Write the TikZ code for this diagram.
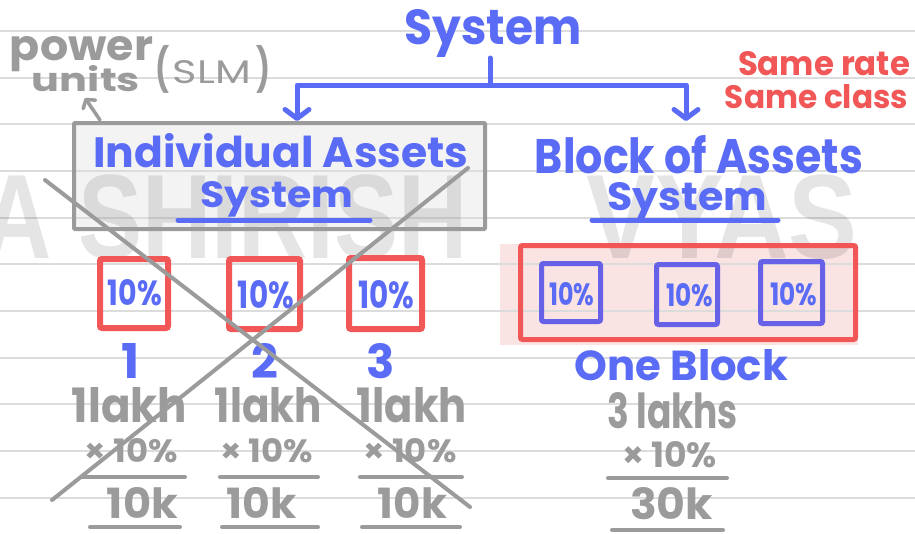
\documentclass[tikz,border=0pt]{standalone}
\usepackage{fontspec}
\setmainfont{Poppins}
\newfontfamily\wmfont{Liberation Sans}
\usetikzlibrary{arrows.meta}
\definecolor{ink}{HTML}{5A6BF5}
\definecolor{inkbox}{HTML}{6661E6}
\definecolor{redink}{HTML}{F25757}
\definecolor{greyink}{HTML}{9B9B9B}
\definecolor{rule}{HTML}{DCDCDC}
\definecolor{boxfill}{HTML}{F3F3F3}
\definecolor{pinkfill}{HTML}{F9E3E3}
% text squeezed to a given width, or width and height (in pt)
\newcommand\hw[2]{\resizebox{#1pt}{!}{#2}}
\newcommand\hwh[3]{\resizebox{#1pt}{#2pt}{#3}}
\newcommand\hh[2]{\resizebox{!}{#1pt}{#2}}
\tikzset{
  hand/.style={inner sep=0pt, anchor=base, font=\bfseries},
  bluetxt/.style={hand, text=ink},
  redtxt/.style={hand, text=redink},
  greytxt/.style={hand, text=greyink},
  pen/.style={line width=#1, line cap=round, line join=round},
  bluepen/.style={pen=5pt, draw=ink},
  greypen/.style={pen=4pt, draw=greyink},
  barb/.style={-{Straight Barb[length=9pt,width=24pt,round]}},
  smallbarb/.style={-{Straight Barb[length=6pt,width=15pt,round]}},
  watermark/.style={inner sep=0pt, text=black, opacity=0.1,
    font=\wmfont\bfseries\fontsize{120}{120}\selectfont},
}
\begin{document}
\begin{tikzpicture}[x=1pt,y=-1pt]
\useasboundingbox (0,0) rectangle (915,533);
\fill[white] (0,0) rectangle (915,533);

% soft fills under the ruled lines
\fill[pinkfill] (500,244) rectangle (858,345);
\fill[boxfill] (74,123) rectangle (485,229);

% ruled paper
\foreach \ry in {31,78,124,171,218,264,311,358,404,451,498}
  \draw[rule, line width=1.5pt] (0,\ry) -- (915,\ry);

% faint watermark
\node[watermark, anchor=base east] (wmA) at (468,258) {\scalebox{0.8}[1]{CA SHIRISH}};
\node[watermark, anchor=base west] (wmB) at (586,258) {\scalebox{0.86}[1]{VYAS}};

% title and branches
\node[bluetxt] (sys) at (493,44) {\hwh{177}{35}{System}};
\coordinate (stem) at (490,58);
\coordinate (fork) at (490,85);
\coordinate (tipL) at (297,121);
\coordinate (tipR) at (686,121);
\draw[bluepen] (stem) -- (fork);
\draw[bluepen, barb] (fork) -| (tipL);
\draw[bluepen, barb] (fork) -| (tipR);

% individual assets system
\draw[draw=greyink, line width=4pt, rounded corners=1pt] (74,123) rectangle (485,229);
\node[bluetxt] (ind) at (281,167) {\hwh{375}{34}{Individual Assets}};
\node[bluetxt] (indsys) at (277,207) {\hwh{153}{26}{System}};
\draw[bluepen] (178,220) -- (370,220);

% block of assets system
\node[bluetxt] (blk) at (699,173) {\hwh{328}{38}{Block of Assets}};
\node[bluetxt] (blksys) at (687,210) {\hwh{160}{28}{System}};
\draw[bluepen] (592,220) -- (778,220);

% red remark
\node[redtxt] (rate) at (824,75) {\hwh{172}{24}{Same rate}};
\node[redtxt] (cls) at (816.5,108) {\hwh{183}{24}{Same class}};

% power units note
\node[greytxt] (pw) at (81.5,60) {\hwh{143}{24}{power}};
\node[greytxt] (un) at (86,91) {\hwh{108}{26}{units}};
\node[greytxt, anchor=center] (lp) at (162,69) {\resizebox*{14pt}{48pt}{(}};
\node[greytxt, font=\mdseries] (slm) at (212,83) {\hwh{78}{23}{SLM}};
\node[greytxt, anchor=center] (rp) at (263,69) {\resizebox*{14pt}{48pt}{)}};
\coordinate (noteTip) at (85,98);
\coordinate (noteTail) at (100,120);
\draw[pen=3.5pt, draw=greyink, smallbarb] (noteTail) -- (noteTip);

% three separate assets
\draw[draw=redink, line width=6pt, rounded corners=2pt] (100,259) rectangle (168,328);
\draw[draw=redink, line width=6pt, rounded corners=2pt] (229,259) rectangle (300,329);
\draw[draw=redink, line width=6pt, rounded corners=2pt] (349,258) rectangle (422,329);
\node[bluetxt] (p1) at (135,305) {\hwh{54}{26}{10\%}};
\node[bluetxt] (p2) at (266,308) {\hwh{56}{28}{10\%}};
\node[bluetxt] (p3) at (386,308) {\hwh{56}{28}{10\%}};
\node[bluetxt] (n1) at (131,378) {\hh{35}{1}};
\node[bluetxt] (n2) at (265,378) {\hh{35}{2}};
\node[bluetxt] (n3) at (381,378) {\hh{35}{3}};

\node[greytxt] (l1) at (129.5,422) {\hwh{115}{35}{1lakh}};
\node[greytxt] (l2) at (268.5,422) {\hwh{107}{35}{1lakh}};
\node[greytxt] (l3) at (412,422) {\hwh{110}{35}{1lakh}};
\node[greytxt] (m1) at (131.5,462) {\hwh{93}{24}{× 10\%}};
\node[greytxt] (m2) at (266.5,462) {\hwh{93}{24}{× 10\%}};
\node[greytxt] (m3) at (410,462) {\hwh{93}{24}{× 10\%}};
\draw[greypen] (82,477) -- (185,477);
\draw[greypen] (220,477) -- (318,477);
\draw[greypen] (360,477) -- (462,477);
\node[greytxt] (k1) at (142.5,518) {\hwh{71}{31}{10k}};
\node[greytxt] (k2) at (262,518) {\hwh{70}{31}{10k}};
\node[greytxt] (k3) at (412.5,518) {\hwh{69}{31}{10k}};
\draw[greypen] (90,527) -- (180,527);
\draw[greypen] (222,527) -- (318,527);
\draw[greypen] (362,527) -- (460,527);

% one block of three assets
\draw[draw=redink, line width=5pt, rounded corners=2pt] (520.5,245.5) rectangle (855.5,339.5);
\draw[draw=inkbox, line width=5pt, rounded corners=2pt] (541.5,263.5) rectangle (600.5,321.5);
\draw[draw=inkbox, line width=5pt, rounded corners=2pt] (656.5,264.5) rectangle (717.5,324.5);
\draw[draw=inkbox, line width=5pt, rounded corners=2pt] (760.5,261.5) rectangle (822.5,323.5);
\node[bluetxt] (q1) at (572,305) {\hwh{45}{23}{10\%}};
\node[bluetxt] (q2) at (690,306) {\hwh{47}{23}{10\%}};
\node[bluetxt] (q3) at (794,305) {\hwh{47}{23}{10\%}};
\node[bluetxt] (one) at (681.5,380) {\hwh{213}{31}{One Block}};
\node[greytxt] (l4) at (672.5,428) {\hwh{131}{36}{3 lakhs}};
\node[greytxt] (m4) at (669.5,467) {\hwh{95}{26}{× 10\%}};
\draw[greypen] (608,478) -- (727,478);
\node[greytxt] (k4) at (671.5,519) {\hwh{83}{32}{30k}};
\draw[greypen] (612,530) -- (723,530);

% crossing out the individual method
\coordinate (xa1) at (45,180);
\coordinate (xa2) at (470,507);
\coordinate (xb1) at (468,168);
\coordinate (xb2) at (52,500);
\draw[greypen] (xa1) -- (xa2);
\draw[greypen] (xb1) -- (xb2);
\end{tikzpicture}
\end{document}
